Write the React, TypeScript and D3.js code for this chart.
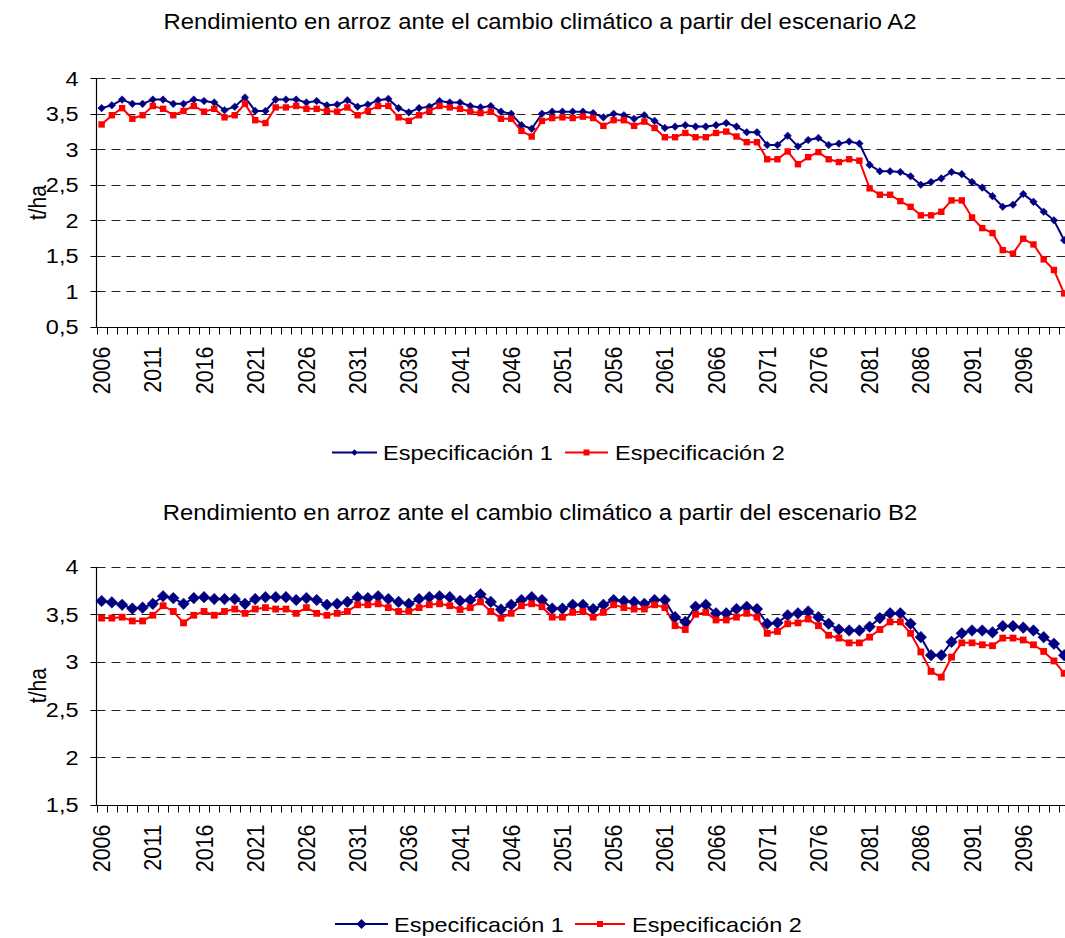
import React from 'react';
import * as d3 from 'd3';

const years: number[] = d3.range(2006, 2101);
const tickYears = years.filter((_, i) => i % 5 === 0);

const seriesNames = ['Especificación 1', 'Especificación 2'];

const a2Spec1 = [
  3.58, 3.62, 3.70, 3.64, 3.64, 3.70, 3.70, 3.64, 3.64, 3.70, 3.68, 3.66, 3.55, 3.60, 3.73, 3.54, 3.54, 3.70, 3.70, 3.70, 3.66, 3.68, 3.62, 3.63,
  3.69, 3.60, 3.63, 3.69, 3.71, 3.58, 3.52, 3.58, 3.60, 3.68, 3.66, 3.66, 3.61, 3.59, 3.61, 3.53, 3.50, 3.34, 3.29, 3.50, 3.53, 3.53, 3.53,
  3.53, 3.51, 3.45, 3.50, 3.48, 3.43, 3.48, 3.40, 3.30, 3.32, 3.34, 3.32, 3.32, 3.34, 3.37, 3.32, 3.24, 3.24, 3.06, 3.06, 3.19, 3.04, 3.13, 3.16,
  3.06, 3.08, 3.11, 3.08, 2.78, 2.69, 2.69, 2.68, 2.62, 2.50, 2.54, 2.59, 2.68, 2.65, 2.54, 2.46, 2.34, 2.19, 2.22, 2.37, 2.26, 2.12, 2.00, 1.72,
];
const a2Spec2 = [
  3.35, 3.48, 3.58, 3.43, 3.48, 3.61, 3.57, 3.48, 3.54, 3.61, 3.53, 3.57, 3.45, 3.48, 3.64, 3.41, 3.37, 3.59, 3.59, 3.61, 3.57, 3.57, 3.54, 3.53,
  3.59, 3.48, 3.54, 3.61, 3.61, 3.45, 3.40, 3.48, 3.54, 3.61, 3.59, 3.57, 3.53, 3.51, 3.53, 3.43, 3.43, 3.26, 3.18, 3.40, 3.44, 3.45, 3.44,
  3.46, 3.44, 3.33, 3.41, 3.41, 3.33, 3.39, 3.30, 3.17, 3.17, 3.23, 3.17, 3.17, 3.23, 3.25, 3.18, 3.10, 3.10, 2.86, 2.86, 2.97, 2.79, 2.89, 2.96,
  2.86, 2.82, 2.86, 2.84, 2.45, 2.36, 2.36, 2.27, 2.19, 2.07, 2.07, 2.12, 2.28, 2.28, 2.04, 1.89, 1.82, 1.58, 1.53, 1.74, 1.66, 1.45, 1.30, 0.97,
];
const b2Spec1 = [
  3.64, 3.625, 3.60, 3.56, 3.57, 3.61, 3.69, 3.67, 3.61, 3.67, 3.68, 3.66, 3.66, 3.66, 3.61, 3.66, 3.68, 3.68, 3.68, 3.65, 3.67, 3.65, 3.60, 3.61,
  3.63, 3.68, 3.67, 3.69, 3.66, 3.63, 3.61, 3.66, 3.68, 3.69, 3.68, 3.64, 3.65, 3.71, 3.63, 3.55, 3.60, 3.65, 3.68, 3.65, 3.56, 3.56, 3.60,
  3.60, 3.555, 3.60, 3.65, 3.64, 3.63, 3.61, 3.65, 3.65, 3.47, 3.42, 3.58, 3.60, 3.51, 3.51, 3.555, 3.58, 3.555, 3.40, 3.41, 3.49, 3.51, 3.53, 3.47,
  3.40, 3.34, 3.33, 3.33, 3.37, 3.46, 3.51, 3.51, 3.40, 3.26, 3.07, 3.07, 3.21, 3.30, 3.33, 3.33, 3.31, 3.376, 3.376, 3.36, 3.33, 3.26, 3.19, 3.07,
];
const b2Spec2 = [
  3.46, 3.46, 3.47, 3.43, 3.43, 3.49, 3.59, 3.53, 3.41, 3.49, 3.53, 3.49, 3.53, 3.555, 3.51, 3.555, 3.57, 3.555, 3.555, 3.51, 3.57, 3.51, 3.49, 3.51,
  3.53, 3.60, 3.60, 3.61, 3.57, 3.53, 3.53, 3.57, 3.60, 3.61, 3.59, 3.55, 3.57, 3.63, 3.53, 3.46, 3.51, 3.59, 3.61, 3.58, 3.47, 3.47, 3.52,
  3.53, 3.47, 3.52, 3.60, 3.57, 3.555, 3.555, 3.60, 3.57, 3.38, 3.34, 3.50, 3.52, 3.44, 3.44, 3.47, 3.51, 3.47, 3.30, 3.32, 3.40, 3.41, 3.45, 3.38,
  3.28, 3.25, 3.20, 3.20, 3.26, 3.34, 3.42, 3.42, 3.30, 3.105, 2.90, 2.84, 3.05, 3.20, 3.20, 3.18, 3.17, 3.25, 3.25, 3.23, 3.18, 3.11, 3.01, 2.88,
];

const a2Ticks = [0.5, 1, 1.5, 2, 2.5, 3, 3.5, 4];
const b2Ticks = [1.5, 2, 2.5, 3, 3.5, 4];

const titleA2 = 'Rendimiento en arroz ante el cambio climático a partir del escenario A2';
const titleB2 = 'Rendimiento en arroz ante el cambio climático a partir del escenario B2';
const yLabel = 't/ha';

const FONT = '"Liberation Sans", Arial, Helvetica, sans-serif';
const SX = 1.12;
const BLUE = '#000080';
const RED = '#FF0000';

const fmt = (v: number) => String(v).replace('.', ',');

interface PanelProps {
  title: string;
  titleY: number;
  yTop: number;
  yBottom: number;
  ticks: number[];
  s1: number[];
  s2: number[];
  diamond: number;
  square: number;
  legendY: number;
  legend: { l1: [number, number]; t1: number; l2: [number, number]; t2: number; dm: number; sq: number };
}

const xScale = d3.scaleBand<number>().domain(years).range([96.5, 96.5 + 10.24 * years.length]).padding(0);
const cx = (yr: number) => (xScale(yr) as number) + xScale.bandwidth() / 2;

function diamondPath(x: number, y: number, r: number) {
  return `M${x},${y - r}L${x + r},${y}L${x},${y + r}L${x - r},${y}Z`;
}

function Panel(p: PanelProps) {
  const ticks = p.ticks;
  const y = d3.scaleLinear().domain([ticks[0], ticks[ticks.length - 1]]).range([p.yBottom, p.yTop]);
  const line = d3
    .line<number>()
    .x((_, i) => cx(years[i]))
    .y((d) => y(d));
  const left = 96.5;
  const right = 1069;
  const axisY = Math.round(p.yBottom) + 0.5;
  const edges = d3.range(years.length + 1).map((i) => left + i * xScale.bandwidth());
  const midY = (p.yTop + p.yBottom) / 2;
  return (
    <g>
      <text
        transform={`translate(540,${p.titleY}) scale(${SX},1)`}
        textAnchor="middle"
        fontSize={21.3}
        fontFamily={FONT}
        fill="#000"
      >
        {p.title}
      </text>
      {/* grid */}
      {ticks.slice(1).map((t) => (
        <line
          key={'g' + t}
          x1={left}
          x2={right}
          y1={Math.round(y(t)) + 0.5}
          y2={Math.round(y(t)) + 0.5}
          stroke="#222"
          strokeWidth={1}
          strokeDasharray="9,6"
        />
      ))}
      {/* y axis */}
      <line x1={left} x2={left} y1={Math.round(p.yTop)} y2={axisY} stroke="#000" strokeWidth={1.2} />
      {ticks.map((t) => (
        <g key={'yt' + t}>
          <line x1={left - 6} x2={left} y1={Math.round(y(t)) + 0.5} y2={Math.round(y(t)) + 0.5} stroke="#000" />
          <text
            transform={`translate(78.5,${y(t)}) scale(${SX},1)`}
            textAnchor="end"
            dy="0.36em"
            fontSize={21}
            fontFamily={FONT}
          >
            {fmt(t)}
          </text>
        </g>
      ))}
      {/* x axis */}
      <line x1={left} x2={right} y1={axisY} y2={axisY} stroke="#000" strokeWidth={1.2} />
      {edges.map((e, i) => (
        <line key={'xt' + i} x1={Math.round(e) + 0.5} x2={Math.round(e) + 0.5} y1={axisY} y2={axisY + 7} stroke="#000" />
      ))}
      {tickYears.map((yr) => (
        <text
          key={'xl' + yr}
          transform={`translate(${cx(yr)},${axisY + 19}) scale(${SX},1) rotate(-90)`}
          textAnchor="end"
          dy="0.36em"
          fontSize={21.5}
          fontFamily={FONT}
        >
          {yr}
        </text>
      ))}
      <text
        transform={`translate(38,${midY}) scale(${SX},1) rotate(-90)`}
        textAnchor="middle"
        dy="0.36em"
        fontSize={21}
        fontFamily={FONT}
      >
        {yLabel}
      </text>
      {/* series */}
      <path d={line(p.s1) || ''} fill="none" stroke={BLUE} strokeWidth={2} />
      <path d={line(p.s2) || ''} fill="none" stroke={RED} strokeWidth={2} />
      {p.s1.map((v, i) => (
        <path key={'m1' + i} d={diamondPath(cx(years[i]), y(v), p.diamond)} fill={BLUE} stroke={BLUE} strokeWidth={0.5} />
      ))}
      {p.s2.map((v, i) => (
        <rect
          key={'m2' + i}
          x={cx(years[i]) - p.square}
          y={y(v) - p.square}
          width={p.square * 2}
          height={p.square * 2}
          fill={RED}
        />
      ))}
      {/* legend */}
      <g>
        <line x1={p.legend.l1[0]} x2={p.legend.l1[1]} y1={p.legendY} y2={p.legendY} stroke={BLUE} strokeWidth={2} />
        <path d={diamondPath((p.legend.l1[0] + p.legend.l1[1]) / 2, p.legendY, p.legend.dm)} fill={BLUE} />
        <text
          transform={`translate(${p.legend.t1},${p.legendY}) scale(${SX},1)`}
          dy="0.36em"
          fontSize={21}
          fontFamily={FONT}
        >
          {seriesNames[0]}
        </text>
        <line x1={p.legend.l2[0]} x2={p.legend.l2[1]} y1={p.legendY} y2={p.legendY} stroke={RED} strokeWidth={2} />
        <rect
          x={(p.legend.l2[0] + p.legend.l2[1]) / 2 - p.legend.sq}
          y={p.legendY - p.legend.sq}
          width={p.legend.sq * 2}
          height={p.legend.sq * 2}
          fill={RED}
        />
        <text
          transform={`translate(${p.legend.t2},${p.legendY}) scale(${SX},1)`}
          dy="0.36em"
          fontSize={21}
          fontFamily={FONT}
        >
          {seriesNames[1]}
        </text>
      </g>
    </g>
  );
}

export default function App() {
  return (
    <svg
      width={1065}
      height={938}
      style={{ position: 'absolute', left: 0, top: 0, background: '#fff' }}
      xmlns="http://www.w3.org/2000/svg"
    >
      <rect width={1065} height={938} fill="#fff" />
      <Panel
        title={titleA2}
        titleY={29}
        yTop={78.3}
        yBottom={326.8}
        ticks={a2Ticks}
        s1={a2Spec1}
        s2={a2Spec2}
        diamond={3.8}
        square={3.2}
        legendY={452.5}
        legend={{ l1: [332, 377], t1: 383, l2: [565, 608], t2: 615, dm: 3.2, sq: 3 }}
      />
      <Panel
        title={titleB2}
        titleY={520}
        yTop={566.7}
        yBottom={804.7}
        ticks={b2Ticks}
        s1={b2Spec1}
        s2={b2Spec2}
        diamond={5.8}
        square={3.4}
        legendY={924}
        legend={{ l1: [335, 388], t1: 394, l2: [575, 625], t2: 632, dm: 5, sq: 3 }}
      />
    </svg>
  );
}
